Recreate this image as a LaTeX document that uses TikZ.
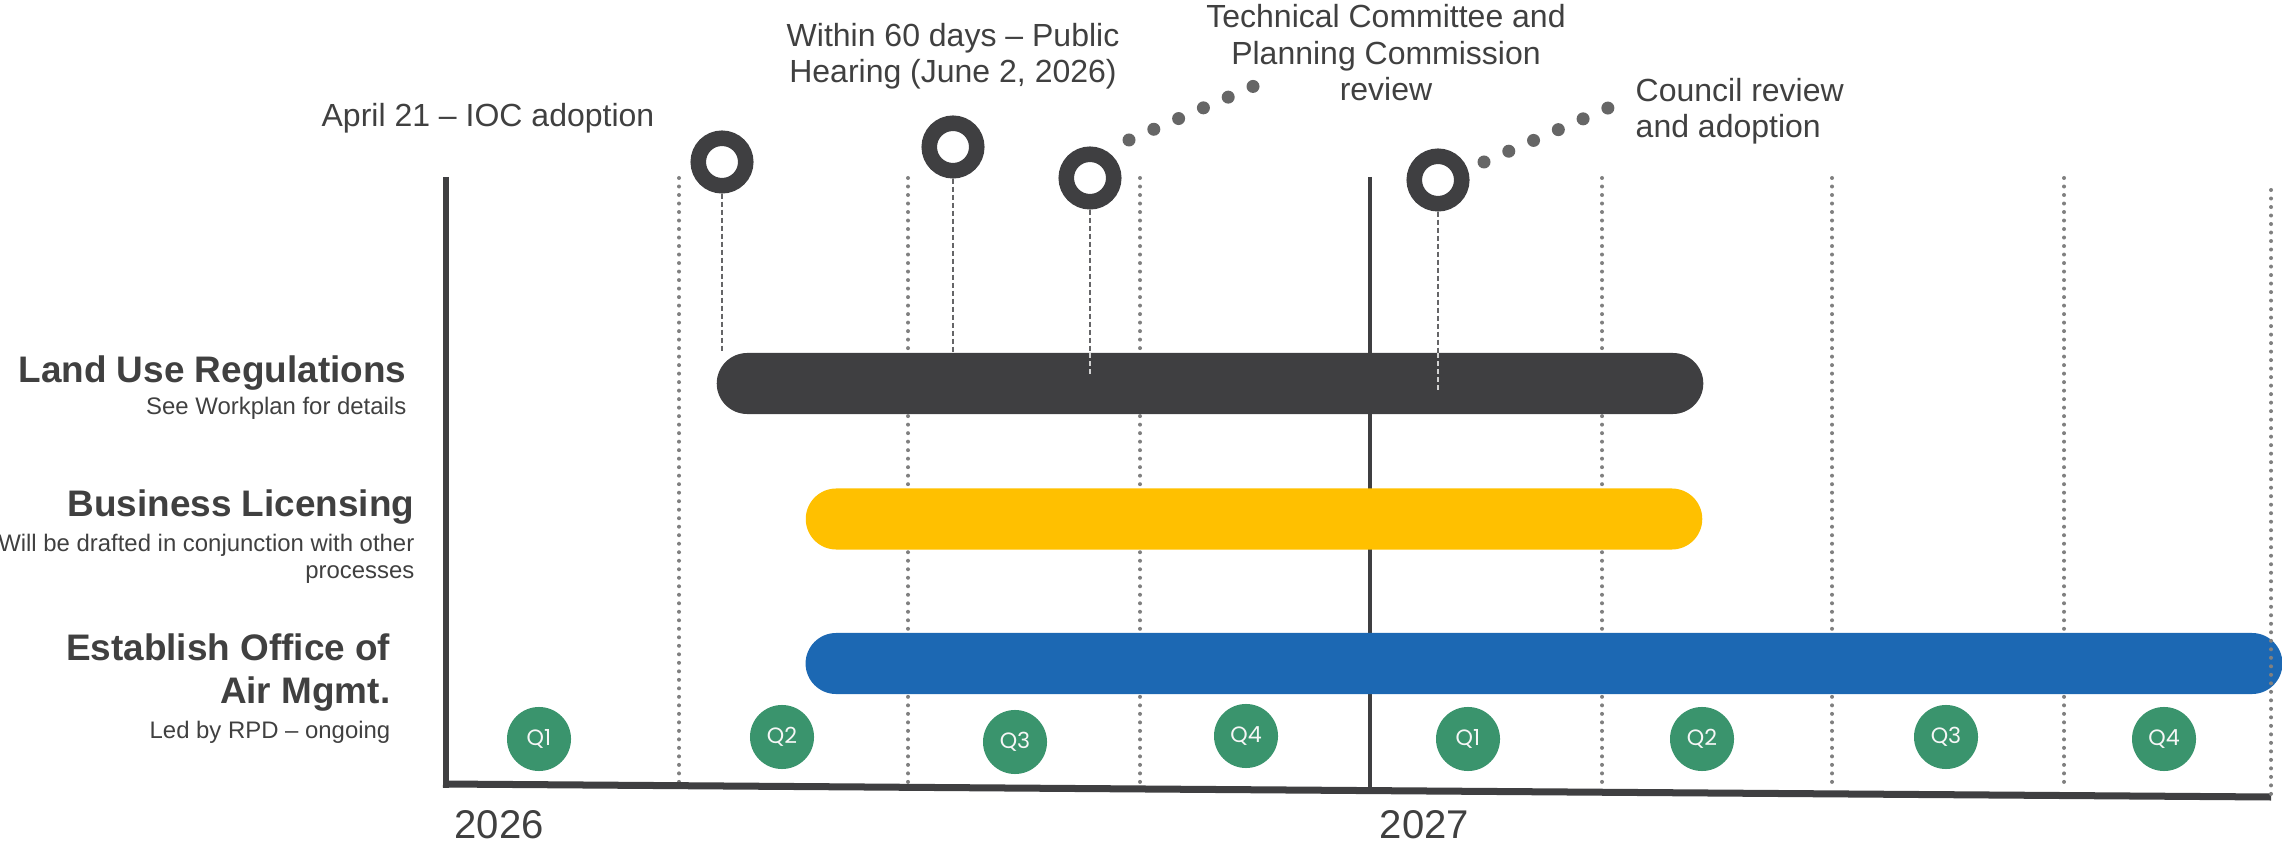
\documentclass[tikz,border=0pt]{standalone}
\usepackage{fontspec}
\setmainfont{Liberation Sans}
\newfontfamily\qfont{Poppins}
\definecolor{ink}{HTML}{404040}
\definecolor{ringgray}{HTML}{3F3F41}
\definecolor{dotgray}{HTML}{666666}
\definecolor{gridgray}{HTML}{808080}
\definecolor{baryellow}{HTML}{FFC000}
\definecolor{barblue}{HTML}{1C68B3}
\definecolor{qgreen}{HTML}{3A946D}

\begin{document}
\begin{tikzpicture}[x=0.01cm, y=-0.01cm,
  lbl/.style={text=ink, inner sep=0pt, font=\fontsize{9.1}{10.5}\selectfont},
  ttl/.style={text=ink, inner sep=0pt, font=\fontsize{10.5}{12.2}\selectfont\bfseries, align=right, anchor=base east},
  note/.style={text=ink, inner sep=0pt, font=\fontsize{6.8}{7.6}\selectfont, align=right, anchor=base east},
  yearlbl/.style={text=ink, inner sep=0pt, font=\fontsize{11.4}{13}\selectfont, anchor=base west},
  ring/.style={shape=circle, draw=ringgray, line width=0.155cm, fill=white, minimum size=0.475cm, inner sep=0pt},
  qtr/.style={shape=circle, fill=qgreen, minimum size=0.64cm, inner sep=0pt, text=white!93!gray, font=\qfont\fontsize{6.3}{7}\selectfont},
  bar/.style={rounded corners=0.305cm, inner sep=0pt, minimum height=0.61cm},
  grid/.style={draw=gridgray, line width=0.04cm, line cap=round, dash pattern=on 0pt off 0.085cm},
  tick/.style={draw=ringgray!80, line width=0.02cm, dash pattern=on 0.05cm off 0.03cm},
  tickin/.style={draw=gray!35, line width=0.02cm, dash pattern=on 0.05cm off 0.03cm},
  chain/.style={draw=dotgray, line width=0.13cm, line cap=round, dash pattern=on 0pt off 0.27cm},
  axis/.style={draw=ringgray, line width=0.06cm}
]
\useasboundingbox (0,0) rectangle (2282,843);

% quarter grid and axes
\foreach \gx in {679,908,1140,1602,1832,2064}
  \draw[grid] (\gx,178) -- (\gx,782);
\draw[ringgray, line width=0.045cm] (1370,177) -- (1370,790);
\draw[axis] (446,177) -- (446,788);
\draw[axis, line width=0.07cm] (443,784) -- (2271,797);

% milestones
\node[ring] (c1) at (722,162) {};
\node[ring] (c2) at (953,147) {};
\node[ring] (c3) at (1090,178) {};
\node[ring] (c4) at (1438,180) {};
\coordinate (c1e) at (722,353);
\coordinate (c2e) at (953,353);
\coordinate (c3e) at (1090,353);
\coordinate (c4e) at (1438,353);
\coordinate (c3f) at (1090,377);
\coordinate (c4f) at (1438,390);
\path[tick] (c1) edge (c1e);
\path[tick] (c2) edge (c2e);
\path[tick] (c3) edge (c3e);
\path[tick] (c4) edge (c4e);

% bars
\node[bar, fill=ringgray, minimum width=9.86cm] (landbar) at (1210,383.5) {};
\node[bar, fill=baryellow, minimum width=8.96cm] (bizbar) at (1254,519) {};
\node[bar, fill=barblue, minimum width=14.76cm] (airbar) at (1544,663.5) {};
\path[tickin] (c3e) edge (c3f);
\path[tickin] (c4e) edge (c4f);
\draw[grid] (2271,190) -- (2271,795);

% dot chains to the labels
\coordinate (t3a) at (1129,140);
\coordinate (t3b) at (1254,86);
\coordinate (t4a) at (1484,162);
\coordinate (t4b) at (1608,108);
\path[chain] (t3a) edge (t3b);
\path[chain] (t4a) edge (t4b);

% milestone labels (base = last line)
\node[lbl, anchor=base east] (ioc) at (655,127) {April 21 – IOC adoption};
\node[lbl, anchor=base, align=center] (hearing) at (953,83) {Within 60 days – Public\\Hearing (June 2, 2026)};
\node[lbl, anchor=base, align=center] (tcpc) at (1386,101) {Technical Committee and\\Planning Commission\\review};
\node[lbl, anchor=base west, align=left] (council) at (1635,138) {Council review\\and adoption};

% row titles
\node[ttl] (landttl) at (407,383) {Land Use Regulations};
\node[note] (landnote) at (407,415) {See Workplan for details};
\node[ttl] (bizttl) at (415,516) {Business Licensing};
\node[note] (biznote) at (415,578) {Will be drafted in conjunction with other\\processes};
\node[ttl] (airttl) at (391,703) {Establish Office of\\Air Mgmt.};
\node[note] (airnote) at (391,738) {Led by RPD – ongoing};

% quarters and years
\foreach \qx/\qy/\qn [count=\i] in {539/739/Q1, 782/737/Q2, 1015/742/Q3, 1246/736/Q4,
    1468/739/Q1, 1702/739/Q2, 1946/737/Q3, 2164/739/Q4}
  \node[qtr] (q\i) at (\qx,\qy) {\qn};
\node[yearlbl] (y2026) at (454,838) {2026};
\node[yearlbl] (y2027) at (1379,838) {2027};
\end{tikzpicture}
\end{document}
